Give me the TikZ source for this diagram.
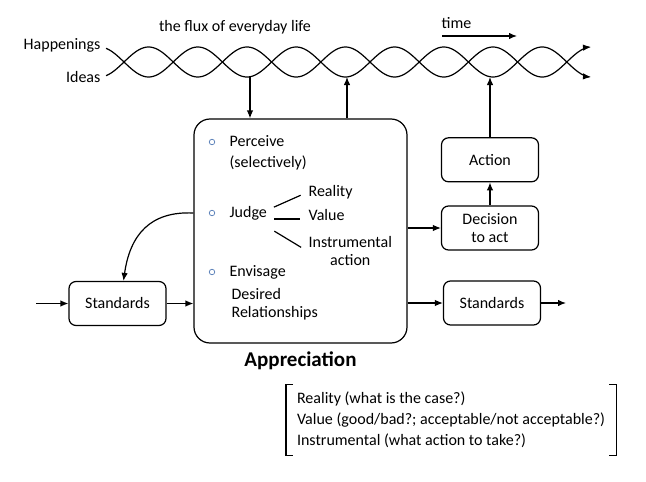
\documentclass[tikz,border=0pt]{standalone}
\usepackage{fontspec}
\setmainfont{Carlito}
\usepackage{tikz}
\usetikzlibrary{positioning, arrows, arrows.meta}
\definecolor{bulletblue}{RGB}{79,120,180}
\tikzset{
    block/.style={rectangle, draw=black, rounded corners=7pt, line width=1.2pt, minimum width=97pt, minimum height=44pt, align=center, inner sep=0pt, font=\fontsize{16}{18}\selectfont},
    bigblock/.style={rectangle, draw=black, rounded corners=16pt, line width=1.2pt, minimum width=213pt, minimum height=224pt},
    lbl/.style={inner sep=0pt, font=\fontsize{16}{18}\selectfont},
    bullet/.style={circle, draw=bulletblue, line width=0.7pt, minimum size=5.5pt, inner sep=0pt},
}

\begin{document}
\begin{tikzpicture}[x=1pt, y=-1pt, >={Latex[length=8pt,width=6.5pt]}, line width=1.2pt]
    \useasboundingbox (0,0) rectangle (646,482);

    % the two strands
    \draw[->] plot[domain=106:591, samples=300] (\x, {62+15*sin(3.65854*(\x-124))});
    \draw[->] plot[domain=106:591, samples=300] (\x, {62-15*sin(3.65854*(\x-124))});
    \node [lbl, anchor=east] (hap) at (101,45) {Happenings};
    \node [lbl, anchor=east] (ideas) at (101,77) {Ideas};
    \node [lbl] (flux) at (235,27) {the flux of everyday life};
    \node [lbl, anchor=west] (time) at (441,23) {time};
    \coordinate (t0) at (442,36);
    \coordinate (t1) at (517,36);
    \draw[->] (t0) -- (t1);

    % appreciation
    \node [bigblock] (appr) at (300.5,231) {};
    \node [lbl, font=\bfseries\fontsize{21}{24}\selectfont] (apprname) [below=8pt of appr] {Appreciation};
    \node [bullet] (b1) at (212,142) {};
    \node [lbl, anchor=west, align=left, font=\fontsize{16}{21}\selectfont] (perc) at (229,153) {Perceive\\(selectively)};
    \node [bullet] (b2) at (212,213) {};
    \node [lbl, anchor=west] (judge) at (229,213) {Judge};
    \node [lbl, anchor=west] (real) at (308,192) {Reality};
    \node [lbl, anchor=west] (val) at (308,215) {Value};
    \node [lbl, anchor=west, align=center] (instr) at (308,251.5) {Instrumental\\action};
    \node [bullet] (b3) at (212,272) {};
    \node [lbl, anchor=west] (env) at (229,272) {Envisage};
    \node [lbl, anchor=west, align=left] (desired) at (231,304) {Desired\\Relationships};
    \draw[shorten <=7pt, shorten >=8pt] ([yshift=3pt]judge.east) -- (real.west);
    \draw[shorten <=7pt, shorten >=8pt] ([yshift=-6pt]judge.east) -- ([yshift=-4pt]val.west);
    \draw[shorten <=8pt, shorten >=8pt] ([yshift=-14pt]judge.east) -- (instr.west);

    \coordinate (dip) at (250,77);
    \coordinate (rise) at (347,77);
    \draw[->] (dip) -- (dip |- appr.north);
    \draw[->] (rise |- appr.north) -- (rise);

    % standards in
    \node [block] (stdin) at (117.5,303.5) {Standards};
    \coordinate (in) at (36,303.5);
    \draw[->] (in) -- (stdin);
    \draw[->] (stdin) -- (appr.west |- stdin);
    \draw[->] (appr.west |- judge) .. controls (150,211) and (130,235) .. ([xshift=6pt]stdin.north);

    % decision, action, standards out
    \node [block] (decide) at (490,228) {Decision\\to act};
    \node [block] (act) [above=23pt of decide] {Action};
    \node [block] (stdout) at (492,303) {Standards};
    \coordinate (rise2) at (490,77);
    \coordinate (out) at (566,303);
    \draw[->] (appr.east |- decide) -- (decide);
    \draw[->] (decide) -- (act);
    \draw[->] (act) -- (rise2);
    \draw[->] (appr.east |- stdout) -- (stdout);
    \draw[->] (stdout) -- (out);

    % kinds of judgement
    \node [lbl, anchor=west, align=left, font=\fontsize{16}{21}\selectfont, minimum width=329pt, inner ysep=7pt] (crit) at (286,420) {Reality (what is the case?)\\Value (good/bad?; acceptable/not acceptable?)\\Instrumental (what action to take?)};
    \draw ([xshift=7pt]crit.north west) -- (crit.north west) -- (crit.south west) -- ([xshift=7pt]crit.south west);
    \draw ([xshift=-7pt]crit.north east) -- (crit.north east) -- (crit.south east) -- ([xshift=-7pt]crit.south east);
\end{tikzpicture}
\end{document}
